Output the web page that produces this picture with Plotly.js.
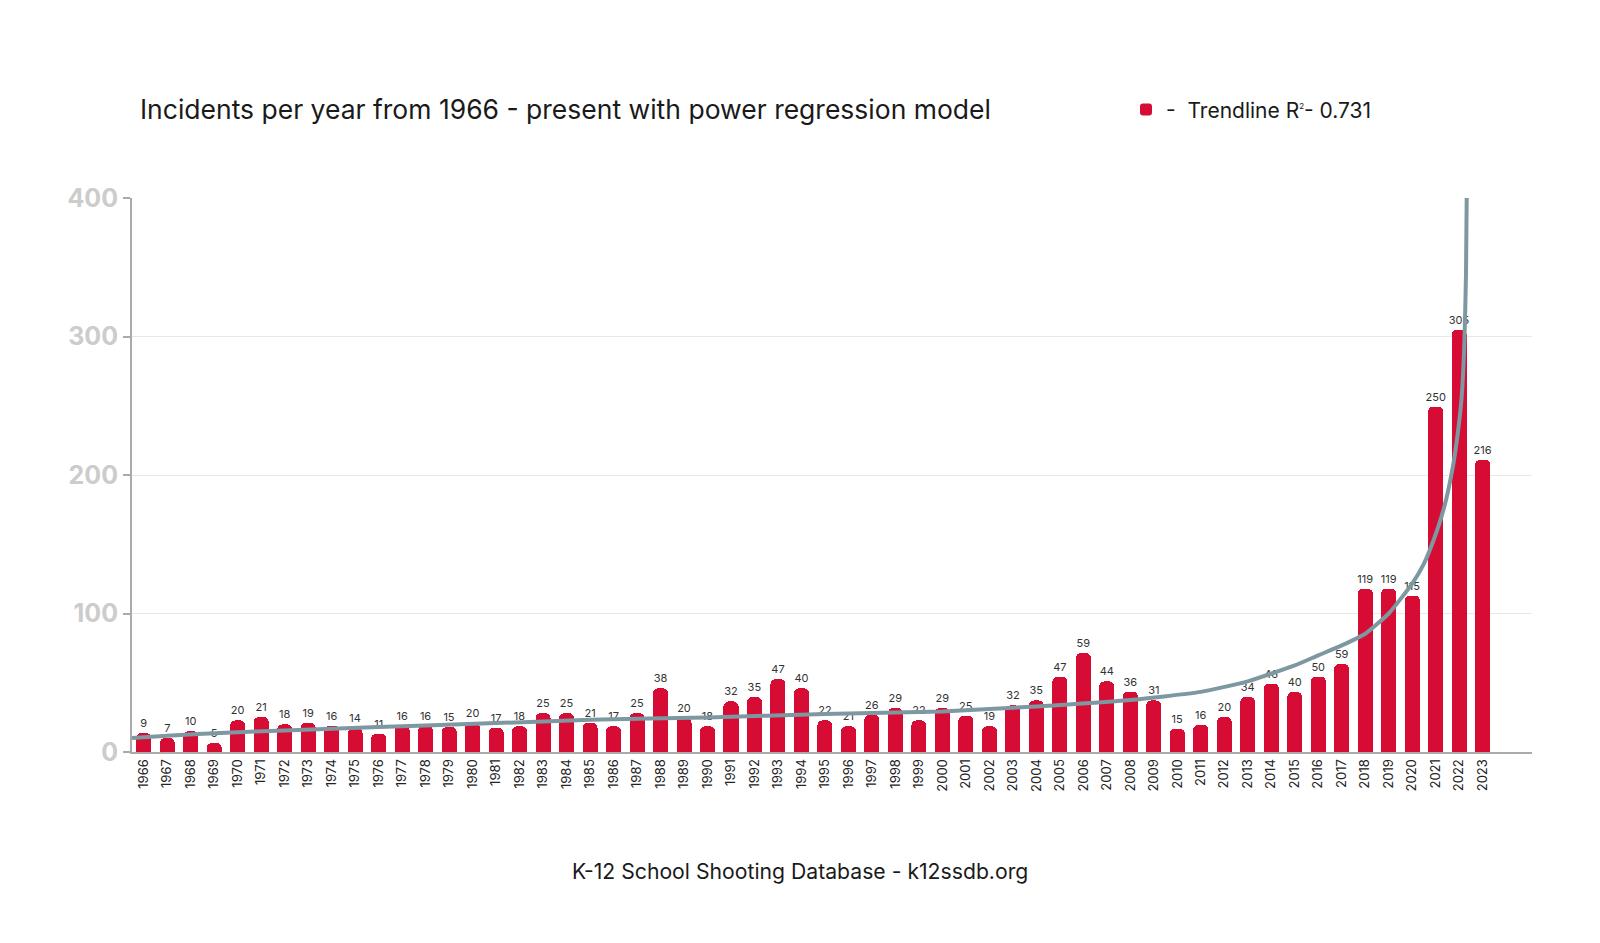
<!DOCTYPE html>
<html>
<head>
<meta charset="utf-8">
<script src="https://cdn.plot.ly/plotly-3.0.1.min.js"></script>
<style>
  html, body { margin: 0; padding: 0; background: #fff; }
  #chart { width: 1600px; height: 943px; }
</style>
</head>
<body>
<div id="chart"></div>
<script>
// years on the x axis
const years = [1966, 1967, 1968, 1969, 1970, 1971, 1972, 1973, 1974, 1975,
  1976, 1977, 1978, 1979, 1980, 1981, 1982, 1983, 1984, 1985,
  1986, 1987, 1988, 1989, 1990, 1991, 1992, 1993, 1994, 1995,
  1996, 1997, 1998, 1999, 2000, 2001, 2002, 2003, 2004, 2005,
  2006, 2007, 2008, 2009, 2010, 2011, 2012, 2013, 2014, 2015,
  2016, 2017, 2018, 2019, 2020, 2021, 2022, 2023]

// numbers printed over the bars
const incidents = [9, 7, 10, 5, 20, 21, 18, 19, 16, 14,
  11, 16, 16, 15, 20, 17, 18, 25, 25, 21,
  17, 25, 38, 20, 18, 32, 35, 47, 40, 22,
  21, 26, 29, 22, 29, 25, 19, 32, 35, 47,
  59, 44, 36, 31, 15, 16, 20, 34, 46, 40,
  50, 59, 119, 119, 115, 250, 305, 216]

// bar heights as drawn in the picture (they do not always match the labels)
const barHeight = [13.7, 10, 15, 6.5, 22.8, 25.2, 19.9, 21.1, 18.9, 17,
  13.2, 18.9, 18.9, 18, 21.1, 17.5, 18.5, 28, 28, 21,
  18.5, 28, 46, 24.7, 18.5, 36.5, 39.6, 52.5, 46, 22.8,
  18.5, 26.9, 31.7, 22.8, 31.7, 26.1, 18.5, 33.6, 37.2, 54.4,
  71.5, 51, 43.6, 37.2, 16.8, 19.7, 25.2, 39.6, 49.4, 43.2,
  54.5, 63.5, 118, 118, 113, 249.4, 305, 211]

// power regression trendline
const trendX = [1965.5, 1967, 1970, 1974, 1978, 1981, 1985, 1990, 1995, 2000,
  2004, 2008, 2011, 2013, 2015, 2016, 2017, 2018, 2019, 2020,
  2020.5, 2020.9, 2021.35, 2021.7, 2021.9, 2022.1, 2022.22, 2022.29, 2022.32]
const trendY = [10.1, 11.8, 14.3, 16.8, 19.2, 20.9, 23.2, 25, 27.5, 29.3,
  32.9, 37.6, 43.4, 51, 62.5, 69.8, 77, 85.4, 100, 121.6,
  136, 152.5, 176, 203, 225, 255, 295, 345, 400]

const FONT = 'Inter, "Noto Sans", sans-serif'

const data = [
  {
    x: years,
    y: barHeight,
    type: 'bar',
    name: '-  Trendline R<sup><span style="font-size:8px">2</span></sup>- 0.731',
    width: 0.64,
    marker: { color: '#D60C34', cornerradius: 5 },
    text: incidents.map(String),
    textposition: 'outside',
    textangle: 0,
    constraintext: 'none',
    cliponaxis: false,
    textfont: { family: FONT, size: 11, color: '#333' },
    hoverinfo: 'x+text'
  },
  {
    x: trendX,
    y: trendY,
    type: 'scatter',
    mode: 'lines',
    showlegend: false,
    line: { color: '#7D98A0', width: 4, shape: 'spline', smoothing: 0.5 },
    hoverinfo: 'skip'
  }
]

const layout = {
  width: 1600,
  height: 943,
  paper_bgcolor: '#fff',
  plot_bgcolor: '#fff',
  margin: { l: 131.5, r: 68, t: 198, b: 191 },
  font: { family: FONT },
  title: {
    text: 'Incidents per year from 1966 - present with power regression model',
    font: { family: FONT, size: 26.5, color: '#1a1a1a' },
    x: 140 / 1600,
    xanchor: 'left',
    xref: 'container',
    y: 1 - 110 / 943,
    yanchor: 'middle',
    yref: 'container'
  },
  showlegend: true,
  legend: {
    x: 0.710,
    xanchor: 'left',
    y: 1.159,
    yanchor: 'middle',
    font: { family: FONT, size: 21, color: '#1a1a1a' },
    bgcolor: 'rgba(0,0,0,0)'
  },
  bargap: 0,
  xaxis: {
    type: 'linear',
    range: [1965.5, 2025.1],
    tickvals: years,
    ticktext: years.map(String),
    tickangle: -90,
    tickfont: { family: FONT, size: 13, color: '#222' },
    showgrid: false,
    zeroline: false,
    showline: true,
    linecolor: '#AAAAAA',
    linewidth: 2,
    ticks: '',
    fixedrange: true
  },
  yaxis: {
    range: [0, 400],
    tickvals: [0, 100, 200, 300, 400],
    tickfont: { family: FONT, size: 25, color: '#CCCCCC', weight: 'bold' },
    gridcolor: '#E8E8E8',
    gridwidth: 1,
    zeroline: false,
    showline: true,
    linecolor: '#AAAAAA',
    linewidth: 2,
    ticks: 'outside',
    ticklen: 7,
    tickcolor: '#AAAAAA',
    tickwidth: 2,
    fixedrange: true
  },
  annotations: [{
    xref: 'paper',
    yref: 'paper',
    x: 0.4773,
    xanchor: 'center',
    y: -0.2148,
    yanchor: 'middle',
    text: 'K-12 School Shooting Database - k12ssdb.org',
    showarrow: false,
    font: { family: FONT, size: 21.2, color: '#1a1a1a' }
  }]
}

Plotly.newPlot('chart', data, layout, { displayModeBar: false, staticPlot: true })
</script>
</body>
</html>
